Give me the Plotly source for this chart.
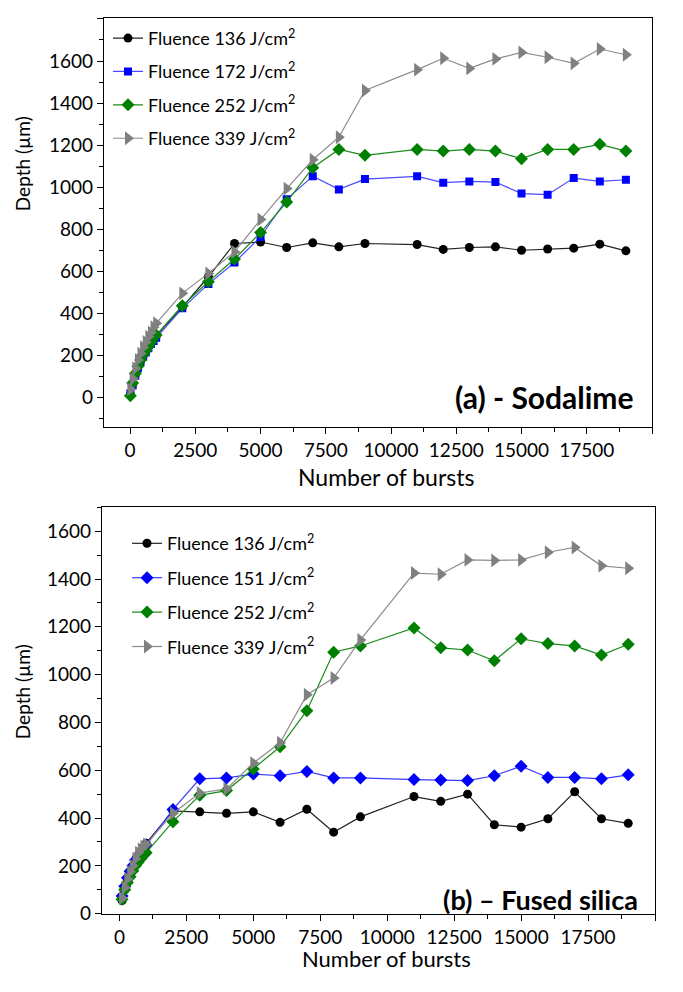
import plotly.graph_objects as go

# ---------------- data: (a) Sodalime ----------------
a_x = [10, 100, 200, 300, 400, 500, 600, 700, 800, 900, 1000,
       2000, 3000, 4000, 5000, 6000, 7000, 8000, 9000,
       11000, 12000, 13000, 14000, 15000, 16000, 17000, 18000, 19000]
a_136 = [15, 65, 110, 145, 175, 200, 220, 240, 260, 280, 295,
         430, 575, 733, 740, 714, 736, 717, 733,
         728, 705, 714, 717, 701, 707, 711, 730, 698]
a_172 = [20, 60, 105, 140, 170, 195, 215, 235, 255, 270, 285,
         425, 540, 643, 764, 943, 1053, 990, 1039,
         1052, 1022, 1028, 1025, 970, 965, 1044, 1028, 1036]
a_252 = [10, 70, 115, 150, 180, 205, 225, 245, 265, 285, 298,
         437, 551, 659, 785, 930, 1093, 1180, 1152,
         1180, 1172, 1180, 1172, 1136, 1180, 1180, 1204, 1172]
a_339 = [40, 90, 140, 180, 210, 240, 265, 290, 310, 335, 354,
         496, 591, 693, 847, 994, 1131, 1238, 1460,
         1559, 1613, 1565, 1610, 1641, 1618, 1589, 1657, 1630]
a_names = ["Fluence 136 J/cm<sup>2</sup>", "Fluence 172 J/cm<sup>2</sup>",
           "Fluence 252 J/cm<sup>2</sup>", "Fluence 339 J/cm<sup>2</sup>"]

# ---------------- data: (b) Fused silica ----------------
b_x = [100, 200, 300, 400, 500, 600, 700, 800, 900, 1000,
       2000, 3000, 4000, 5000, 6000, 7000, 8000, 9000,
       11000, 12000, 13000, 14000, 15000, 16000, 17000, 18000, 19000]
b_136 = [55, 100, 135, 165, 190, 215, 235, 255, 275, 295,
         430, 426, 420, 426, 382, 437, 341, 405,
         490, 470, 500, 372, 362, 397, 510, 397, 378]
b_151 = [74, 115, 150, 177, 200, 225, 239, 256, 273, 287,
         436, 564, 568, 584, 577, 595, 568, 568,
         561, 559, 557, 577, 617, 570, 570, 564, 581]
b_252 = [60, 100, 130, 155, 180, 200, 215, 230, 245, 255,
         385, 495, 515, 605, 698, 849, 1094, 1120,
         1195, 1112, 1103, 1058, 1150, 1130, 1120, 1082, 1127]
b_339 = [65, 110, 145, 175, 200, 230, 255, 270, 280, 290,
         420, 505, 522, 630, 715, 916, 986, 1145,
         1425, 1420, 1480, 1478, 1480, 1512, 1532, 1455, 1445]
b_names = ["Fluence 136 J/cm<sup>2</sup>", "Fluence 151 J/cm<sup>2</sup>",
           "Fluence 252 J/cm<sup>2</sup>", "Fluence 339 J/cm<sup>2</sup>"]

x_ticks = [0, 2500, 5000, 7500, 10000, 12500, 15000, 17500, 20000]
x_ticktext = ["0", "2500", "5000", "7500", "10000", "12500", "15000", "17500", "20000"]

FONT = "Lato, 'Open Sans', sans-serif"

fig = go.Figure()

styles_a = [
    dict(line="#222222", mk="#000000", sym="circle", size=9),
    dict(line="#4a4aff", mk="#0000ff", sym="square", size=8),
    dict(line="#1a8a1a", mk="#008000", sym="diamond", size=10),
    dict(line="#8c8c8c", mk="#808080", sym="triangle-right", size=12),
]
styles_b = [
    dict(line="#222222", mk="#000000", sym="circle", size=9),
    dict(line="#3a3aff", mk="#0000ff", sym="diamond", size=10),
    dict(line="#1a8a1a", mk="#008000", sym="diamond", size=10),
    dict(line="#8c8c8c", mk="#808080", sym="triangle-right", size=12),
]

for ys, name, st in zip([a_136, a_172, a_252, a_339], a_names, styles_a):
    fig.add_trace(go.Scatter(
        x=a_x, y=ys, name=name, mode="lines+markers",
        line=dict(color=st["line"], width=1.2),
        marker=dict(color=st["mk"], symbol=st["sym"], size=st["size"]),
        xaxis="x", yaxis="y", legend="legend", legendgroup="a" + name))

for ys, name, st in zip([b_136, b_151, b_252, b_339], b_names, styles_b):
    fig.add_trace(go.Scatter(
        x=b_x, y=ys, name=name, mode="lines+markers",
        line=dict(color=st["line"], width=1.2),
        marker=dict(color=st["mk"], symbol=st["sym"], size=st["size"]),
        xaxis="x2", yaxis="y2", legend="legend2", legendgroup="b" + name))

# The page body keeps its default 8px margin, so the figure is made
# 16px smaller than the window and positions are given in window pixels.
OFF = 8
W, H = 683 - 2 * OFF, 992 - 2 * OFF
def px_x(p):
    return (p - OFF) / W
def px_y(p):
    return 1 - (p - OFF) / H

axis_common = dict(
    showline=True, linecolor="black", linewidth=1.3, mirror=True,
    ticks="outside", ticklen=6, tickwidth=1.2, tickcolor="black",
    showgrid=False, zeroline=False,
    tickfont=dict(family=FONT, size=19, color="black"),
)

fig.update_layout(
    width=W, height=H,
    margin=dict(l=0, r=0, t=0, b=0),
    paper_bgcolor="white", plot_bgcolor="white",
    font=dict(family=FONT, color="black"),
    showlegend=True,
    xaxis=dict(axis_common, domain=[px_x(104), px_x(652)], range=[-1000, 20000],
               tickvals=x_ticks, ticktext=x_ticktext, anchor="y",
               minor=dict(dtick=1250, tick0=0, ticks="outside", ticklen=4, tickcolor="black")),
    yaxis=dict(axis_common, domain=[px_y(432), px_y(18)], range=[-140, 1805],
               dtick=200, tick0=0, anchor="x",
               minor=dict(dtick=100, tick0=0, ticks="outside", ticklen=4, tickcolor="black")),
    xaxis2=dict(axis_common, domain=[px_x(102), px_x(655)], range=[-650, 20000],
                tickvals=x_ticks, ticktext=x_ticktext, anchor="y2",
                minor=dict(dtick=1250, tick0=0, ticks="outside", ticklen=4, tickcolor="black")),
    yaxis2=dict(axis_common, domain=[px_y(924), px_y(513)], range=[0, 1700],
                dtick=200, tick0=0, anchor="x2",
                minor=dict(dtick=100, tick0=0, ticks="outside", ticklen=4, tickcolor="black")),
    legend=dict(x=px_x(108), y=px_y(20), xanchor="left", yanchor="top",
                bgcolor="rgba(0,0,0,0)", font=dict(family=FONT, size=18, color="black"),
                tracegroupgap=7, itemwidth=30),
    legend2=dict(x=px_x(127), y=px_y(531), xanchor="left", yanchor="top",
                 bgcolor="rgba(0,0,0,0)", font=dict(family=FONT, size=18, color="black"),
                 tracegroupgap=8, itemwidth=30),
    annotations=[
        dict(text="<b>(a) - Sodalime</b>", x=px_x(636), y=px_y(401), xref="paper", yref="paper",
             xanchor="right", yanchor="middle", showarrow=False,
             font=dict(family=FONT, size=30, color="black")),
        dict(text="<b>(b) \u2013 Fused silica</b>", x=px_x(640), y=px_y(910), xref="paper", yref="paper",
             xanchor="right", yanchor="middle", showarrow=False,
             font=dict(family=FONT, size=27, color="black")),
        dict(text="Depth (\u00b5m)", x=px_x(22), y=px_y(166), xref="paper", yref="paper",
             textangle=-90, showarrow=False, xanchor="center", yanchor="middle",
             font=dict(family=FONT, size=19, color="black")),
        dict(text="Depth (\u00b5m)", x=px_x(22), y=px_y(700), xref="paper", yref="paper",
             textangle=-90, showarrow=False, xanchor="center", yanchor="middle",
             font=dict(family=FONT, size=19, color="black")),
        dict(text="Number of bursts", x=px_x(386), y=px_y(482), xref="paper", yref="paper",
             showarrow=False, xanchor="center", yanchor="middle",
             font=dict(family=FONT, size=23, color="black")),
        dict(text="Number of bursts", x=px_x(386), y=px_y(969), xref="paper", yref="paper",
             showarrow=False, xanchor="center", yanchor="middle",
             font=dict(family=FONT, size=22, color="black")),
    ],
)

fig.write_html("out.html", config={"displayModeBar": False})
